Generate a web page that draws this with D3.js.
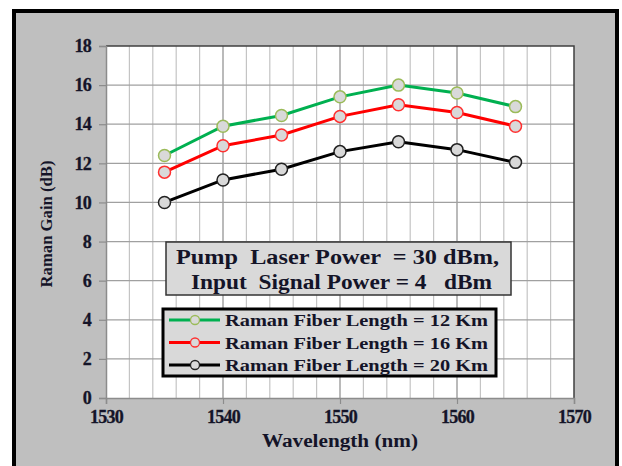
<!DOCTYPE html>
<html><head><meta charset="utf-8">
<script src="https://cdn.jsdelivr.net/npm/d3@7"></script>
<style>body{margin:0;background:#fff}svg{display:block}</style>
</head><body>
<svg id="c" width="622" height="466"></svg>
<script>
const wavelengths = [1535, 1540, 1545, 1550, 1555, 1560, 1565];
const gain12 = [12.4, 13.9, 14.45, 15.4, 16.0, 15.6, 14.9];
const gain16 = [11.55, 12.9, 13.45, 14.4, 15.0, 14.6, 13.9];
const gain20 = [10.0, 11.15, 11.7, 12.6, 13.1, 12.7, 12.05];
const seriesNames = ["Raman Fiber Length = 12 Km", "Raman Fiber Length = 16 Km", "Raman Fiber Length = 20 Km"];
const xTicks = [1530, 1540, 1550, 1560, 1570];
const yTicks = [0, 2, 4, 6, 8, 10, 12, 14, 16, 18];
const noteLines = ["Pump  Laser Power  = 30 dBm,", "Input  Signal Power = 4   dBm"];

const lineColors = ["#00b050", "#ff0000", "#000000"];
const markerStrokes = ["#9bbb59", "#ff3030", "#222222"];
const series = [gain12, gain16, gain20];
const FONT = "'Liberation Serif','Times New Roman',serif";
const TXT = "#141428";

const svg = d3.select("#c");
svg.append("rect").attr("x", 14).attr("y", 11).attr("width", 603).attr("height", 470)
  .attr("fill", "#bfbfbf").attr("stroke", "#000").attr("stroke-width", 4);

const x = d3.scaleLinear().domain([1530, 1570]).range([106, 574]);
const y = d3.scaleLinear().domain([0, 18]).range([398, 46]);

svg.append("rect").attr("x", x(1530)).attr("y", y(18)).attr("width", x(1570) - x(1530)).attr("height", y(0) - y(18))
  .attr("fill", "#fff");

const minor = d3.range(1532, 1570, 2).filter(v => v % 10 !== 0);
svg.append("g").selectAll("line").data(minor).join("line")
  .attr("x1", d => x(d)).attr("x2", d => x(d)).attr("y1", y(0)).attr("y2", y(18))
  .attr("stroke", "#c4c4c4").attr("stroke-width", 1.2);
svg.append("g").selectAll("line").data(xTicks.slice(1, -1)).join("line")
  .attr("x1", d => x(d)).attr("x2", d => x(d)).attr("y1", y(0)).attr("y2", y(18))
  .attr("stroke", "#8c8c8c").attr("stroke-width", 1.2);
svg.append("g").selectAll("line").data(yTicks.slice(1, -1)).join("line")
  .attr("x1", x(1530)).attr("x2", x(1570)).attr("y1", d => y(d)).attr("y2", d => y(d))
  .attr("stroke", "#a0a0a0").attr("stroke-width", 1.2);
svg.append("path").attr("d", `M${x(1530)},${y(18)}H${x(1570)}V${y(0)}`)
  .attr("fill", "none").attr("stroke", "#404040").attr("stroke-width", 1.5);

const yAxis = svg.append("g").attr("transform", `translate(${x(1530)},0)`)
  .call(d3.axisLeft(y).tickValues(yTicks).tickSize(7).tickPadding(8).tickFormat(d3.format("d")));
const xAxis = svg.append("g").attr("transform", `translate(0,${y(0)})`)
  .call(d3.axisBottom(x).tickValues(xTicks).tickSize(6).tickPadding(6).tickFormat(d3.format("d")));
[yAxis, xAxis].forEach(g => {
  g.attr("font-family", FONT).attr("font-size", 18).attr("font-weight", "bold");
  g.select(".domain").attr("stroke", "#8c8c8c").attr("stroke-width", 1.5);
  g.selectAll(".tick line").attr("stroke", "#8c8c8c").attr("stroke-width", 1.2);
  g.selectAll("text").attr("fill", TXT).attr("stroke", TXT).attr("stroke-width", 0.3)
    .attr("letter-spacing", "-0.8");
});

svg.append("text").attr("transform", "translate(52,224) rotate(-90)").attr("text-anchor", "middle")
  .attr("fill", TXT).attr("font-family", FONT).attr("font-weight", "bold").attr("font-size", 16)
  .attr("textLength", 127).attr("lengthAdjust", "spacingAndGlyphs")
  .text("Raman Gain (dB)");
svg.append("text").attr("x", 340).attr("y", 447).attr("text-anchor", "middle")
  .attr("fill", TXT).attr("font-family", FONT).attr("font-weight", "bold").attr("font-size", 18)
  .attr("textLength", 156).attr("lengthAdjust", "spacingAndGlyphs")
  .text("Wavelength (nm)");

const lineGen = d3.line().x((d, i) => x(wavelengths[i])).y(d => y(d));
series.forEach((vals, k) => {
  svg.append("path").datum(vals).attr("d", lineGen).attr("fill", "none")
    .attr("stroke", lineColors[k]).attr("stroke-width", 3);
});
series.forEach((vals, k) => {
  svg.append("g").selectAll("circle").data(vals).join("circle")
    .attr("cx", (d, i) => x(wavelengths[i])).attr("cy", d => y(d)).attr("r", 6)
    .attr("fill", "#d9d9d9").attr("stroke", markerStrokes[k]).attr("stroke-width", 1.5);
});

svg.append("rect").attr("x", 166).attr("y", 242).attr("width", 345).attr("height", 53)
  .attr("fill", "#d9d9d9").attr("stroke", "#333").attr("stroke-width", 1.5);
const noteX = [176, 191], noteW = [323, 301], noteY = [264, 289];
noteLines.forEach((t, i) => {
  svg.append("text").attr("x", noteX[i]).attr("y", noteY[i]).attr("fill", TXT)
    .attr("font-family", FONT).attr("font-weight", "bold").attr("font-size", 20)
    .attr("textLength", noteW[i]).attr("lengthAdjust", "spacingAndGlyphs")
    .style("white-space", "pre").text(t);
});

svg.append("rect").attr("x", 163).attr("y", 309).attr("width", 333).attr("height", 67)
  .attr("fill", "#d9d9d9").attr("stroke", "#000").attr("stroke-width", 3);
seriesNames.forEach((name, k) => {
  const cy = 320 + k * 22.5;
  svg.append("line").attr("x1", 169).attr("x2", 220).attr("y1", cy).attr("y2", cy)
    .attr("stroke", lineColors[k]).attr("stroke-width", 3);
  svg.append("circle").attr("cx", 195).attr("cy", cy).attr("r", 4.5)
    .attr("fill", "#d9d9d9").attr("stroke", markerStrokes[k]).attr("stroke-width", 1.3);
  svg.append("text").attr("x", 225).attr("y", cy + 6).attr("fill", TXT)
    .attr("font-family", FONT).attr("font-weight", "bold").attr("font-size", 17)
    .attr("textLength", 263).attr("lengthAdjust", "spacingAndGlyphs").text(name);
});
</script>
</body></html>
